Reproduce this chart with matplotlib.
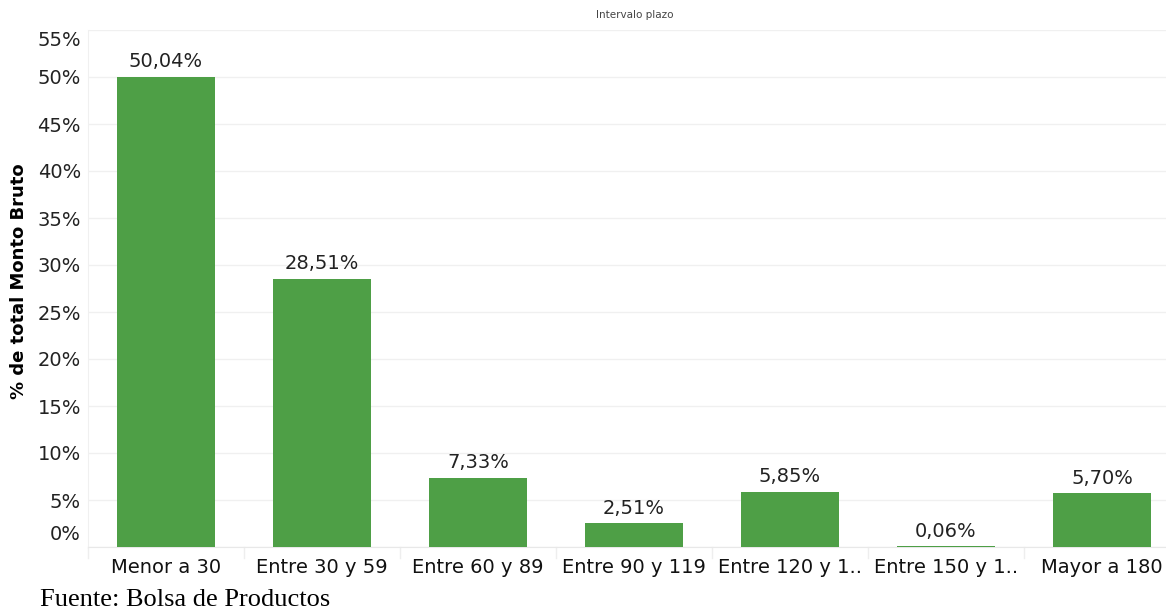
import matplotlib.pyplot as plt
import matplotlib.transforms as mtransforms

categories = ["Menor a 30", "Entre 30 y 59", "Entre 60 y 89", "Entre 90 y 119",
              "Entre 120 y 1..", "Entre 150 y 1..", "Mayor a 180"]
values = [50.04, 28.51, 7.33, 2.51, 5.85, 0.06, 5.70]
yticks = [0, 5, 10, 15, 20, 25, 30, 35, 40, 45, 50, 55]

green = "#4e9f46"
font = ["DejaVu Sans"]

fig = plt.figure(figsize=(11.66, 6.10), dpi=100)
ax = fig.add_axes([88 / 1166, 63 / 610, 1 - 88 / 1166, 517 / 610])

x = list(range(len(categories)))
ax.bar(x, values, width=0.63, color=green, zorder=3)
for xi, v in zip(x, values):
    ax.text(xi, v + 0.6, f"{v:.2f}%".replace(".", ","), ha="center", va="bottom",
            fontsize=14, family=font, color="#222222")

ax.set_xlim(-0.5, (1166 - 88) / 156 - 0.5)
ax.set_ylim(0, 55)
ax.set_yticks(yticks)
ax.set_yticklabels([f"{t}%" for t in yticks], fontsize=14, family=font, color="#222222")
ax.set_xticks(x)
ax.set_xticklabels(categories, fontsize=14, family=font, color="#111111")
ax.tick_params(axis="both", length=0)
ax.tick_params(axis="y", pad=5)
ax.tick_params(axis="x", pad=8)

# edge labels pulled inward like the original
labels = ax.get_yticklabels()
labels[0].set_transform(labels[0].get_transform() + mtransforms.ScaledTranslation(0, 14 / 100, fig.dpi_scale_trans))
labels[-1].set_transform(labels[-1].get_transform() + mtransforms.ScaledTranslation(0, -9 / 100, fig.dpi_scale_trans))

ax.grid(axis="y", color="#f0f0f0", linewidth=1, zorder=0)
for s in ["top", "right"]:
    ax.spines[s].set_visible(False)
ax.spines["left"].set_color("#f0f0f0")
ax.spines["bottom"].set_color("#e8e8e8")

# faint separators between categories
for b in range(len(categories)):
    ax.plot([b - 0.5, b - 0.5], [0, -1.2], color="#eeeeee", linewidth=1, clip_on=False)

ax.set_ylabel("% de total Monto Bruto", fontsize=13, fontweight="bold", family=font)
ax.yaxis.set_label_coords(-0.056, 0.515)

fig.text(635 / 1166, 1 - 15 / 610, "Intervalo plazo", ha="center", va="center",
         fontsize=7.5, family=font, color="#444444")
fig.text(40 / 1166, 1 - 600 / 610, "Fuente: Bolsa de Productos", ha="left", va="center",
         fontsize=19, family="Liberation Serif", color="#000000")

fig.savefig("out.png", dpi=100)
